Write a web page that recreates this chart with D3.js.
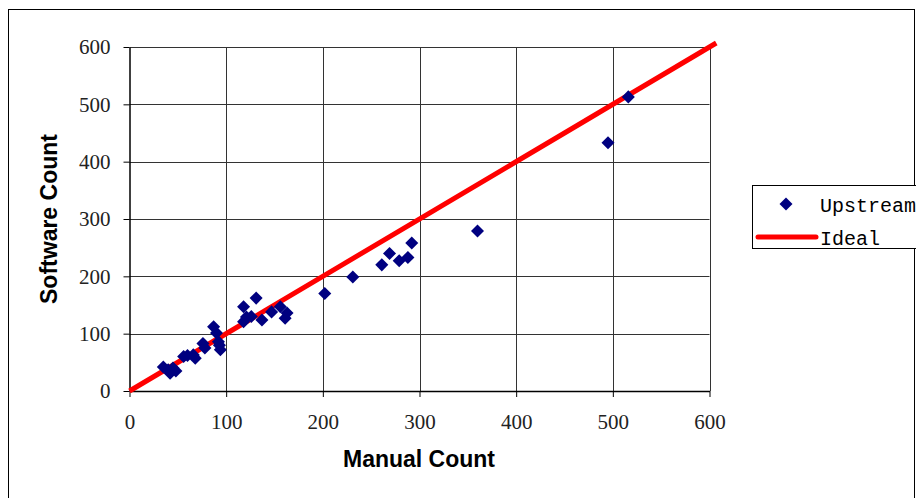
<!DOCTYPE html>
<html>
<head>
<meta charset="utf-8">
<script src="https://cdn.jsdelivr.net/npm/d3@7"></script>
<style>
  body { margin: 0; background: #fff; }
  .axis-title { font-family: "Liberation Sans", Arial, sans-serif; font-size: 23px; font-weight: bold; }
  .legend-text { font-family: "Liberation Mono", monospace; font-size: 20px; }
</style>
</head>
<body>
<div id="chart"></div>
<script>
// Data
const manualCount = [35, 42, 45, 40, 48, 56, 60, 66, 68, 76, 78, 87, 90, 92, 93, 94,
  118, 118, 121, 126, 131, 137, 147, 156, 161, 163, 202, 231, 261, 269, 279, 288, 292, 360, 495, 516];
const softwareCount = [42, 31, 40, 37, 35, 60, 62, 63, 57, 83, 75, 112, 101, 86, 80, 72,
  147, 121, 129, 130, 162, 124, 138, 147, 127, 136, 170, 199, 220, 240, 227, 233, 258, 279, 433, 513];
const ideal = [0, 607];
const ticks = [0, 100, 200, 300, 400, 500, 600];

const width = 916, height = 498;
const plot = { left: 129.5, right: 709.5, top: 47, bottom: 391 };

const svg = d3.select("#chart")
  .append("svg")
  .attr("width", width)
  .attr("height", height);

// outer chart border
svg.append("rect")
  .attr("x", 8.5).attr("y", 9.5)
  .attr("width", 906).attr("height", 520)
  .attr("fill", "none").attr("stroke", "#000").attr("stroke-width", 1);

const x = d3.scaleLinear().domain([0, 600]).range([plot.left, plot.right]);
const y = d3.scaleLinear().domain([0, 600]).range([plot.bottom, plot.top]);

// gridlines
const grid = svg.append("g");
grid.selectAll(".hg").data(ticks.slice(1)).enter().append("line")
  .attr("x1", plot.left).attr("x2", plot.right)
  .attr("y1", d => Math.round(y(d)) + 0.5).attr("y2", d => Math.round(y(d)) + 0.5)
  .attr("stroke", "#333").attr("stroke-width", 1);
grid.selectAll(".vg").data(ticks.slice(1)).enter().append("line")
  .attr("y1", plot.top).attr("y2", plot.bottom)
  .attr("x1", d => Math.round(x(d)) + 0.5).attr("x2", d => Math.round(x(d)) + 0.5)
  .attr("stroke", "#333").attr("stroke-width", 1);

// axes
const xAxis = svg.append("g")
  .attr("transform", `translate(0,${plot.bottom})`)
  .call(d3.axisBottom(x).tickValues(ticks).tickSize(6).tickPadding(17).tickSizeOuter(0));
const yAxis = svg.append("g")
  .attr("transform", `translate(${plot.left},0)`)
  .call(d3.axisLeft(y).tickValues(ticks).tickSize(6).tickPadding(13).tickSizeOuter(0));
[xAxis, yAxis].forEach(a => {
  a.attr("font-family", "'Liberation Serif', serif").attr("font-size", 21);
  a.selectAll(".tick text").attr("fill", "#222");
  a.select(".domain").attr("stroke", "#000").attr("stroke-width", 1.5);
  a.selectAll(".tick line").attr("stroke", "#000");
});

// ideal line
svg.append("line")
  .attr("x1", x(ideal[0])).attr("y1", y(ideal[0]))
  .attr("x2", x(ideal[1])).attr("y2", y(ideal[1]))
  .attr("stroke", "#ff0000").attr("stroke-width", 5);

// points
const diamond = d3.symbol().type(d3.symbolSquare).size(85);
svg.selectAll(".pt").data(manualCount).enter().append("path")
  .attr("d", diamond)
  .attr("transform", (d, i) => `translate(${x(d)},${y(softwareCount[i])}) rotate(45)`)
  .attr("fill", "#000080");

// axis titles
svg.append("text")
  .attr("class", "axis-title")
  .attr("x", 419).attr("y", 467)
  .attr("text-anchor", "middle")
  .text("Manual Count");
svg.append("text")
  .attr("class", "axis-title")
  .attr("transform", "translate(57,219) rotate(-90)")
  .attr("text-anchor", "middle")
  .text("Software Count");

// legend
const legend = svg.append("g");
legend.append("rect")
  .attr("x", 752.5).attr("y", 185.5)
  .attr("width", 180).attr("height", 63)
  .attr("fill", "#fff").attr("stroke", "#000");
legend.append("path")
  .attr("d", diamond)
  .attr("transform", "translate(786,204) rotate(45)")
  .attr("fill", "#000080");
legend.append("text")
  .attr("class", "legend-text")
  .attr("x", 820).attr("y", 212)
  .text("Upstream");
legend.append("line")
  .attr("x1", 758).attr("x2", 816)
  .attr("y1", 237).attr("y2", 237)
  .attr("stroke", "#ff0000").attr("stroke-width", 5).attr("stroke-linecap", "round");
legend.append("text")
  .attr("class", "legend-text")
  .attr("x", 820).attr("y", 245)
  .text("Ideal");
</script>
</body>
</html>
